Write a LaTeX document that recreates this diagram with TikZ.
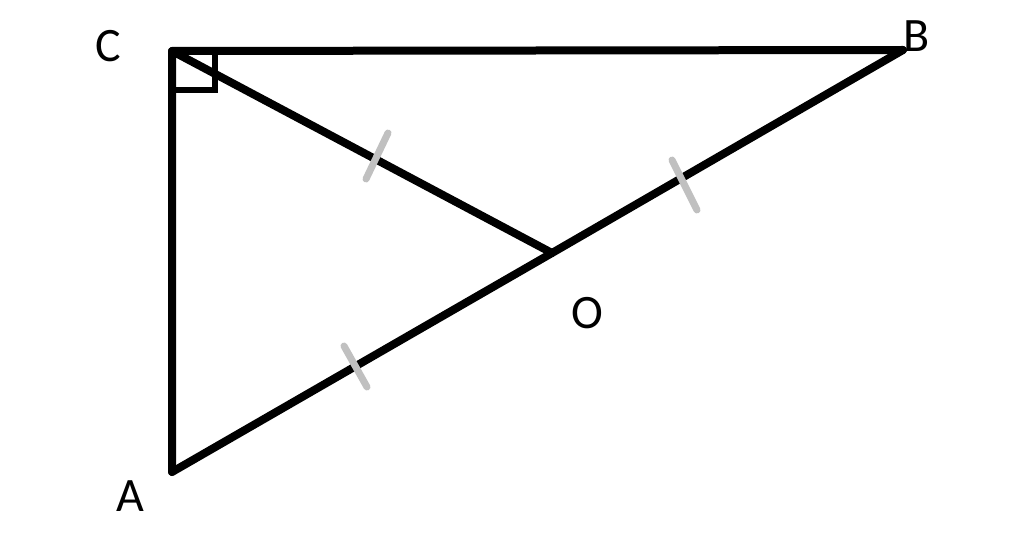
\documentclass[tikz,border=0pt]{standalone}
\usepackage{fontspec}
\setmainfont{Carlito}
\usetikzlibrary{positioning}
\tikzset{every node/.append style={transform shape=false}}

\begin{document}
\begin{tikzpicture}[x=1pt,y=-1pt,
  side/.style={line width=8pt,line cap=round,line join=round},
  tick/.style={line width=7pt,line cap=round,color=tickgray},
  lbl/.style={font=\fontsize{48}{56}\selectfont,inner sep=0pt}]
  \definecolor{tickgray}{RGB}{192,192,192}
  \useasboundingbox (0,0) rectangle (1024,540);

  \coordinate (C) at (172,51);
  \coordinate (B) at (903,50);
  \coordinate (A) at (172,472);
  \coordinate (O) at (552,253);

  % right angle at C
  \draw[line width=6pt] (172,90)--(215,90)--(215,51);

  \draw[side] (A)--(C)--(B);
  \draw[side] (A)--(O)--(B);
  \draw[side] (C)--(O);

  % equal marks
  \draw[tick] (388,133)--(366,179);
  \draw[tick] (344,346)--(367,387);
  \draw[tick] (672,160)--(697,210);

  \node[lbl] (lC) at (108,46) {C};
  \node[lbl] (lB) at (917,36) {B};
  \node[lbl] (lA) at (130,496) {A};
  \node[lbl] (lO) at (587,313) {O};
\end{tikzpicture}
\end{document}
